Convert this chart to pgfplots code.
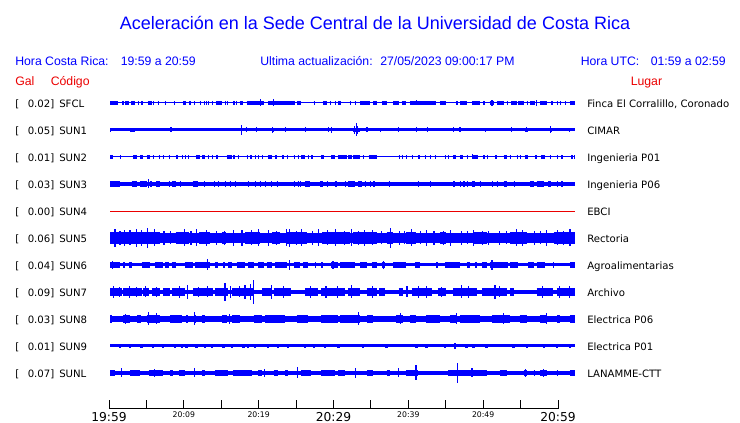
\documentclass[border=0pt]{standalone}
\usepackage{pgfplots}
\pgfplotsset{compat=1.18}
\usepackage{fontspec}
\setmainfont{Liberation Sans}
\newfontfamily\dejavu{DejaVu Sans}
\definecolor{tb}{RGB}{0,0,255}
\definecolor{tr}{RGB}{235,0,0}
\pgfplotsset{
  core/.style={tb, line width=#1, forget plot},
  seg/.style={tb, line width=#1, unbounded coords=jump, forget plot},
  spk/.style={tb, only marks, mark=*, mark size=0pt, forget plot,
    error bars/.cd, y dir=both, y explicit, error mark=none,
    error bar style={line width=0.9pt, draw=tb}},
}
\newcommand\stn[4]{%
  \node[anchor=base west, inner sep=0pt] at (15,#1+4.5) {[};
  \node[anchor=base west, inner sep=0pt] at (27.5,#1+4.5) {#2]};
  \node[anchor=base west, inner sep=0pt] at (59,#1+4.5) {#3};
  \node[anchor=base west, inner sep=0pt] at (587,#1+4.5) {#4};}
\begin{document}
\begin{tikzpicture}
\useasboundingbox (0,0) rectangle (555pt,-317.25pt);
\begin{axis}[at={(82.5pt,-296.25pt)}, anchor=south west, scale only axis,
  width=348.75pt, height=230.25pt, xmin=0, xmax=60.26, ymin=28, ymax=335,
  axis lines=none, clip=false]
% ---------- SFCL (y=320)
\addplot[core=0.75pt] coordinates {(0,320) (60.26,320)};
\addplot[seg=2.6pt] table[row sep=\\, x index=0, y expr=320] {0\\1.1\\nan\\1.6\\1.75\\nan\\1.9\\2.4\\nan\\2.7\\3.2\\nan\\3.6\\3.8\\nan\\4.0\\4.3\\nan\\4.9\\5.4\\nan\\5.6\\5.75\\nan\\6.2\\6.35\\nan\\7.1\\7.25\\nan\\8.3\\8.45\\nan\\9.5\\9.8\\nan\\10.3\\10.45\\nan\\10.9\\11.05\\nan\\11.6\\11.75\\nan\\12.2\\12.35\\nan\\12.5\\12.6\\nan\\12.7\\12.85\\nan\\13.2\\13.35\\nan\\13.8\\14.5\\nan\\14.9\\15.05\\nan\\15.2\\15.35\\nan\\16.0\\16.15\\nan\\16.3\\16.45\\nan\\16.8\\17.2\\nan\\17.7\\19.9\\nan\\20.5\\24.0\\nan\\24.2\\24.8\\nan\\26.4\\26.55\\nan\\27.6\\28.1\\nan\\28.5\\28.65\\nan\\29.2\\29.35\\nan\\29.6\\29.9\\nan\\31.1\\31.25\\nan\\31.7\\31.85\\nan\\32.4\\33.7\\nan\\34.1\\34.6\\nan\\35.2\\35.85\\nan\\36.7\\37.4\\nan\\37.8\\38.4\\nan\\38.9\\42.3\\nan\\42.8\\43.6\\nan\\44.9\\45.05\\nan\\45.4\\46.2\\nan\\46.9\\47.9\\nan\\48.4\\48.55\\nan\\49.2\\49.7\\nan\\50.1\\51.0\\nan\\51.4\\51.6\\nan\\52.0\\52.7\\nan\\52.9\\53.6\\nan\\54.0\\54.15\\nan\\54.4\\54.55\\nan\\54.6\\55.1\\nan\\55.7\\56.6\\nan\\57.2\\57.35\\nan\\57.9\\58.05\\nan\\58.3\\58.45\\nan\\59.0\\59.15\\nan\\59.6\\60.26\\};
\addplot[spk] table[row sep=\\, x index=0, y expr=320, y error index=1] {19.5 3.5\\21.2 3.5\\39.7 2.5\\49.5 3\\55.3 3\\};
% ---------- SUN1 (y=293)
\addplot[core=2.25pt] coordinates {(0,293) (60.26,293)};
\addplot[seg=3.4pt] table[row sep=\\, x index=0, y expr=293] {2.6\\3.2\\nan\\20.95\\21.3\\nan\\31.5\\32.4\\nan\\53.8\\54.2\\nan\\57.0\\57.3\\};
\addplot[spk] table[row sep=\\, x index=0, y expr=293, y error index=1] {0.1 2\\7.9 2.5\\17.0 5\\17.7 2.5\\19.0 2.5\\21.1 3\\22.7 2.5\\25.3 2.5\\28.3 2.5\\28.7 3\\31.9 6.5\\31.7 4\\32.1 4\\33.3 2.5\\35.1 2\\37.4 2.5\\39.7 2.5\\41.1 2.5\\44.5 2.5\\45.35 2.5\\48.7 2\\52.0 2.5\\54.0 2.5\\57.1 3.5\\59.5 2\\};
% ---------- SUN2 (y=266)
\addplot[core=0.75pt] coordinates {(0,266) (60.26,266)};
\addplot[seg=2.5pt] table[row sep=\\, x index=0, y expr=266] {0\\0.4\\nan\\1.3\\1.45\\nan\\3.0\\3.5\\nan\\3.9\\4.3\\nan\\4.75\\5.2\\nan\\5.6\\5.75\\nan\\6.3\\6.45\\nan\\6.9\\7.05\\nan\\7.6\\7.75\\nan\\8.6\\8.75\\nan\\9.3\\9.45\\nan\\9.7\\9.85\\nan\\10.15\\10.3\\nan\\11.2\\11.7\\nan\\11.9\\12.3\\nan\\12.7\\12.85\\nan\\13.2\\13.35\\nan\\13.8\\14.0\\nan\\15.1\\15.25\\nan\\15.35\\15.8\\nan\\16.0\\16.15\\nan\\16.6\\16.75\\nan\\17.7\\17.85\\nan\\18.1\\18.4\\nan\\18.8\\18.95\\nan\\19.2\\19.35\\nan\\19.7\\19.85\\nan\\20.5\\20.95\\nan\\21.4\\21.6\\nan\\22.25\\22.5\\nan\\22.9\\23.05\\nan\\23.8\\23.95\\nan\\24.3\\24.45\\nan\\24.8\\25.3\\nan\\25.7\\25.85\\nan\\26.1\\26.25\\nan\\27.4\\27.7\\nan\\28.7\\29.2\\nan\\29.6\\29.75\\nan\\29.85\\30.7\\nan\\30.9\\31.3\\nan\\31.5\\32.4\\nan\\32.8\\32.95\\nan\\33.5\\34.6\\nan\\37.4\\37.55\\nan\\37.8\\37.95\\nan\\38.4\\38.55\\nan\\39.1\\39.25\\nan\\39.9\\40.2\\nan\\40.8\\40.95\\nan\\41.5\\41.65\\nan\\42.1\\42.25\\nan\\43.4\\43.55\\nan\\43.8\\43.95\\nan\\44.5\\44.9\\nan\\45.4\\45.8\\nan\\46.2\\46.35\\nan\\46.9\\47.7\\nan\\48.4\\48.55\\nan\\48.8\\48.95\\nan\\49.9\\50.1\\nan\\51.0\\51.4\\nan\\51.8\\51.95\\nan\\52.7\\52.85\\nan\\53.1\\53.25\\nan\\53.8\\54.2\\nan\\55.1\\55.3\\nan\\55.9\\56.4\\nan\\57.0\\57.15\\nan\\57.9\\58.1\\nan\\58.5\\58.65\\nan\\59.8\\59.95\\nan\\60.1\\60.26\\};
\addplot[spk] table[row sep=\\, x index=0, y expr=266, y error index=1] {47.0 2.5\\};
% ---------- SUN3 (y=239)
\addplot[core=2.6pt] coordinates {(0,239) (60.26,239)};
\addplot[seg=4pt] table[row sep=\\, x index=0, y expr=239] {0\\1.3\\nan\\2.8\\3.5\\nan\\3.9\\4.75\\nan\\5.2\\5.4\\nan\\6.0\\6.5\\nan\\7.6\\7.75\\nan\\8.0\\8.5\\nan\\9.1\\9.25\\nan\\10.7\\11.45\\nan\\12.2\\12.35\\nan\\13.5\\13.65\\nan\\14.0\\14.15\\nan\\14.9\\15.05\\nan\\15.5\\15.65\\nan\\16.2\\16.35\\nan\\17.9\\18.05\\nan\\18.8\\18.95\\nan\\19.4\\19.55\\nan\\20.1\\20.25\\nan\\20.9\\21.05\\nan\\21.6\\21.75\\nan\\23.8\\23.95\\nan\\24.3\\24.45\\nan\\24.6\\24.75\\nan\\25.3\\25.9\\nan\\27.2\\27.6\\nan\\28.1\\28.25\\nan\\29.1\\29.4\\nan\\30.45\\30.6\\nan\\30.9\\31.7\\nan\\32.2\\32.6\\nan\\33.0\\33.15\\nan\\33.7\\33.85\\nan\\34.1\\34.3\\nan\\36.1\\36.25\\nan\\39.95\\40.1\\nan\\41.5\\41.65\\nan\\44.5\\44.7\\nan\\45.35\\45.5\\nan\\45.8\\45.95\\nan\\46.2\\46.35\\nan\\46.9\\47.3\\nan\\47.9\\48.05\\nan\\49.5\\49.65\\nan\\50.1\\50.25\\nan\\51.0\\51.4\\nan\\52.3\\52.45\\nan\\54.4\\54.9\\nan\\55.3\\56.2\\nan\\56.8\\57.2\\nan\\57.9\\58.05\\nan\\58.5\\58.65\\};
\addplot[spk] table[row sep=\\, x index=0, y expr=239, y error index=1] {4.3 3\\5.0 4.5\\25.6 3\\};
% ---------- SUN4 (y=212)
\addplot[tr, line width=0.6pt, forget plot] coordinates {(0,212) (60.26,212)};
% ---------- SUN5 (y=185)
\addplot[core=7.2pt] coordinates {(0,185) (60.26,185)};
\addplot[seg=9pt] table[row sep=\\, x index=0, y expr=185] {0\\6.5\\nan\\8.5\\10.2\\nan\\11.5\\13.0\\nan\\14.5\\15.0\\nan\\17.5\\19.5\\nan\\21.0\\22.0\\nan\\23.0\\25.5\\nan\\27.5\\31.1\\nan\\31.5\\34.6\\nan\\35.85\\36.7\\nan\\38.4\\39.7\\nan\\42.8\\43.6\\nan\\47.1\\48.8\\nan\\51.8\\54.0\\nan\\57.5\\60.26\\};
\addplot[spk] table[row sep=\\, x index=0, y expr=185, y error index=1] {0.65 9\\1.3 7\\1.9 8\\2.6 7.5\\3.45 9\\4.1 8\\4.9 10\\5.8 8.5\\7.0 7\\7.8 6.5\\9.7 8.5\\10.5 7\\11.2 8.5\\12.5 8\\13.8 7\\14.8 7\\16.0 8\\17.1 8\\18.3 7.5\\19.2 8.5\\20.5 8\\21.6 7\\22.9 8.5\\23.3 9\\24.2 7\\24.8 8.5\\26.2 7\\27.0 8.5\\28.2 7.5\\29.2 8.5\\30.4 7\\31.3 8.5\\32.2 7\\33.0 8\\34.0 7.5\\35.2 6.5\\36.3 10\\37.5 7\\38.2 6.5\\39.1 8.5\\40.2 6.5\\41.0 8\\42.0 7\\43.2 7\\44.1 8\\45.5 7\\46.3 6.5\\47.1 8\\48.3 7\\49.0 7\\50.5 7\\51.4 6.5\\52.7 8.5\\53.5 8\\55.0 7\\55.8 6.5\\56.6 8\\58.0 7.5\\58.8 7\\59.6 8.5\\};
% ---------- SUN6 (y=158)
\addplot[core=2.25pt] coordinates {(0,158) (60.26,158)};
\addplot[seg=4pt] table[row sep=\\, x index=0, y expr=158] {0\\1.3\\nan\\1.7\\1.9\\nan\\2.4\\2.8\\nan\\4.1\\5.2\\nan\\5.8\\6.9\\nan\\7.1\\7.6\\nan\\8.0\\8.6\\nan\\9.7\\10.8\\nan\\11.0\\13.0\\nan\\13.6\\14.0\\nan\\14.7\\14.85\\nan\\15.3\\15.8\\nan\\16.4\\17.5\\nan\\17.9\\18.6\\nan\\19.2\\19.9\\nan\\20.3\\21.0\\nan\\21.4\\22.9\\nan\\23.8\\24.6\\nan\\25.0\\25.7\\nan\\26.6\\26.75\\nan\\27.4\\27.55\\nan\\28.7\\29.6\\nan\\29.8\\31.75\\nan\\32.4\\33.3\\nan\\33.9\\34.6\\nan\\35.2\\35.6\\nan\\36.7\\38.4\\nan\\39.5\\40.2\\nan\\42.3\\42.45\\nan\\43.4\\45.4\\nan\\46.2\\46.7\\nan\\47.3\\47.5\\nan\\48.2\\48.8\\nan\\49.2\\51.6\\nan\\51.8\\52.9\\nan\\54.2\\54.9\\nan\\55.3\\56.4\\nan\\57.45\\57.6\\nan\\59.6\\60.26\\};
\addplot[spk] table[row sep=\\, x index=0, y expr=158, y error index=1] {0.3 4\\12.6 5.5\\23.3 5\\28.9 4\\35.4 4\\49.5 5\\};
% ---------- SUN7 (y=131)
\addplot[core=3pt] coordinates {(0,131) (60.26,131)};
\addplot[seg=5.6pt] table[row sep=\\, x index=0, y expr=131] {0\\1.5\\nan\\1.7\\4.1\\nan\\4.3\\5.0\\nan\\5.4\\6.5\\nan\\6.9\\7.8\\nan\\8.0\\9.7\\nan\\10.8\\13.4\\nan\\13.6\\15.3\\nan\\15.8\\18.6\\nan\\19.7\\20.95\\nan\\21.2\\23.5\\nan\\25.3\\27.0\\nan\\27.4\\30.45\\nan\\30.9\\32.4\\nan\\33.3\\34.6\\nan\\34.8\\35.6\\nan\\37.4\\38.0\\nan\\39.1\\41.7\\nan\\42.5\\43.6\\nan\\44.5\\47.5\\nan\\48.2\\51.4\\nan\\51.8\\52.3\\nan\\55.3\\57.45\\nan\\57.9\\60.26\\};
\addplot[spk] table[row sep=\\, x index=0, y expr=131, y error index=1] {0.5 6\\1.2 5\\2.5 6\\3.4 5\\4.6 5.5\\6.0 5\\9.0 6\\10.0 7\\11.5 5\\12.6 5.5\\14.9 9\\15.6 6\\16.8 5.5\\17.5 7\\18.2 8\\18.6 12\\20.9 7\\22.5 6\\26.0 6\\28.0 6\\29.5 6\\31.3 6.5\\34.0 6\\38.5 5.5\\40.0 6\\41.0 6\\43.0 5\\45.5 6.5\\46.5 6\\49.9 7\\50.5 5.5\\56.0 6\\58.3 6\\59.5 6\\};
% ---------- SUN8 (y=104)
\addplot[core=4.1pt] coordinates {(0,104) (60.26,104)};
\addplot[seg=5.6pt] table[row sep=\\, x index=0, y expr=104] {0\\0.3\\nan\\1.7\\2.6\\nan\\3.5\\4.0\\nan\\4.75\\6.5\\nan\\7.8\\9.3\\nan\\9.9\\10.05\\nan\\11.0\\11.15\\nan\\11.9\\12.3\\nan\\14.5\\15.1\\nan\\15.8\\16.8\\nan\\18.6\\19.7\\nan\\20.1\\22.7\\nan\\24.2\\25.7\\nan\\27.4\\29.6\\nan\\29.8\\32.4\\nan\\33.3\\34.1\\nan\\37.1\\38.0\\nan\\38.9\\39.7\\nan\\41.0\\42.8\\nan\\44.1\\44.9\\nan\\45.4\\48.0\\nan\\49.5\\51.8\\nan\\53.1\\54.0\\nan\\55.7\\56.6\\nan\\57.9\\58.3\\nan\\59.6\\60.26\\};
\addplot[spk] table[row sep=\\, x index=0, y expr=104, y error index=1] {2.0 5\\5.0 6.5\\6.0 5.5\\11.0 6.5\\15.5 5\\32.2 6.5\\37.6 5.5\\44.9 5.5\\51.0 5.5\\56.6 5.5\\};
% ---------- SUN9 (y=77)
\addplot[core=2.25pt] coordinates {(0,77) (60.26,77)};
\addplot[seg=3.2pt] table[row sep=\\, x index=0, y expr=77] {1.15\\1.45\\nan\\2.45\\2.75\\nan\\3.95\\4.25\\nan\\5.45\\5.75\\nan\\6.75\\7.05\\nan\\8.25\\8.55\\nan\\9.15\\9.45\\nan\\9.75\\10.05\\nan\\11.05\\11.35\\nan\\12.15\\12.45\\nan\\13.05\\13.35\\nan\\14.55\\14.85\\nan\\15.65\\15.95\\nan\\17.15\\17.45\\nan\\17.75\\18.05\\nan\\18.65\\18.95\\nan\\20.35\\20.65\\nan\\21.65\\21.95\\nan\\22.95\\23.25\\nan\\25.15\\25.45\\nan\\26.25\\26.55\\nan\\27.75\\28.05\\nan\\29.45\\29.75\\nan\\32.65\\32.95\\nan\\35.7\\36.0\\nan\\39.55\\39.85\\nan\\40.85\\41.15\\nan\\43.25\\43.55\\nan\\44.55\\44.85\\nan\\46.05\\46.35\\nan\\46.95\\47.25\\nan\\48.65\\48.95\\nan\\52.15\\52.45\\nan\\53.85\\54.15\\nan\\56.05\\56.35\\nan\\57.75\\58.05\\nan\\59.45\\59.75\\};
\addplot[spk] table[row sep=\\, x index=0, y expr=77, y error index=1] {44.7 3\\};
% ---------- SUNL (y=50)
\addplot[core=3pt] coordinates {(0,50) (60.26,50)};
\addplot[seg=4.5pt] table[row sep=\\, x index=0, y expr=50] {0\\0.65\\nan\\2.6\\3.9\\nan\\5.0\\6.9\\nan\\7.8\\8.2\\nan\\8.9\\9.7\\nan\\11.9\\12.3\\nan\\13.6\\15.3\\nan\\16.0\\18.4\\nan\\19.2\\19.7\\nan\\21.2\\21.8\\nan\\22.7\\23.1\\nan\\24.8\\26.1\\nan\\27.4\\29.2\\nan\\29.6\\30.45\\nan\\33.3\\34.1\\nan\\35.85\\36.3\\nan\\38.4\\39.95\\nan\\43.8\\48.8\\nan\\50.5\\51.4\\nan\\53.6\\54.0\\nan\\54.9\\55.1\\nan\\55.7\\56.6\\nan\\57.9\\58.1\\nan\\59.6\\60.26\\};
\addplot[spk] table[row sep=\\, x index=0, y expr=50, y error index=1] {1.5 4.5\\5.8 4\\11.0 4.5\\20.0 4\\24.3 5.5\\31.8 5\\37.4 4.5\\39.65 7.5\\45.0 10\\46.9 4.5\\53.8 4\\56.2 4\\};
\end{axis}
% ---------- time ruler
\begin{axis}[at={(81.75pt,-306.75pt)}, anchor=south west, scale only axis,
  width=336.75pt, height=6.4pt, xmin=0, xmax=60, ymin=0, ymax=1,
  axis x line=bottom, axis y line=none, axis line style={-, black, line width=0.75pt},
  xtick={0,5,...,60}, tick align=inside, major tick length=6.4pt,
  xtick style={black, line width=0.75pt},
  xticklabels={{\fontsize{9.2}{10}\selectfont 19:59},{},{20:09},{},{20:19},{},{\fontsize{9.2}{10}\selectfont 20:29},{},{20:39},{},{20:49},{},{\fontsize{9.2}{10}\selectfont 20:59}},
  xticklabel style={font=\dejavu\fontsize{5.8}{6}\selectfont, anchor=north, inner sep=0pt, yshift=-2pt}]
\end{axis}
% ---------- texts
\begin{scope}[x=0.75pt, y=-0.75pt]
\node[anchor=base, inner sep=0pt, text=tb, font=\fontsize{13.5}{16}\selectfont] at (375,29.5) {Aceleración en la Sede Central de la Universidad de Costa Rica};
\begin{scope}[every node/.style={anchor=base west, inner sep=0pt, text=tb, font=\fontsize{9.2}{11}\selectfont}]
\node at (15,65.5) {Hora Costa Rica:};
\node at (120.5,65.5) {19:59 a 20:59};
\node at (260,65.5) {Ultima actualización:};
\node at (380,65.5) {27/05/2023 09:00:17 PM};
\node at (580.5,65.5) {Hora UTC:};
\node at (650.5,65.5) {01:59 a 02:59};
\end{scope}
\begin{scope}[every node/.style={anchor=base west, inner sep=0pt, text=tr, font=\fontsize{9.2}{11}\selectfont}]
\node at (15,85.5) {Gal};
\node at (50.5,85.5) {Código};
\node at (630.5,85.5) {Lugar};
\end{scope}
\begin{scope}[font=\dejavu\fontsize{7.6}{9}\selectfont]
\stn{103}{0.02}{SFCL}{Finca El Corralillo, Coronado}
\stn{130}{0.05}{SUN1}{CIMAR}
\stn{157}{0.01}{SUN2}{Ingenieria P01}
\stn{184}{0.03}{SUN3}{Ingenieria P06}
\stn{211}{0.00}{SUN4}{EBCI}
\stn{238}{0.06}{SUN5}{Rectoria}
\stn{265}{0.04}{SUN6}{Agroalimentarias}
\stn{292}{0.09}{SUN7}{Archivo}
\stn{319}{0.03}{SUN8}{Electrica P06}
\stn{346}{0.01}{SUN9}{Electrica P01}
\stn{373}{0.07}{SUNL}{LANAMME-CTT}
\end{scope}
\end{scope}
\end{tikzpicture}
\end{document}
